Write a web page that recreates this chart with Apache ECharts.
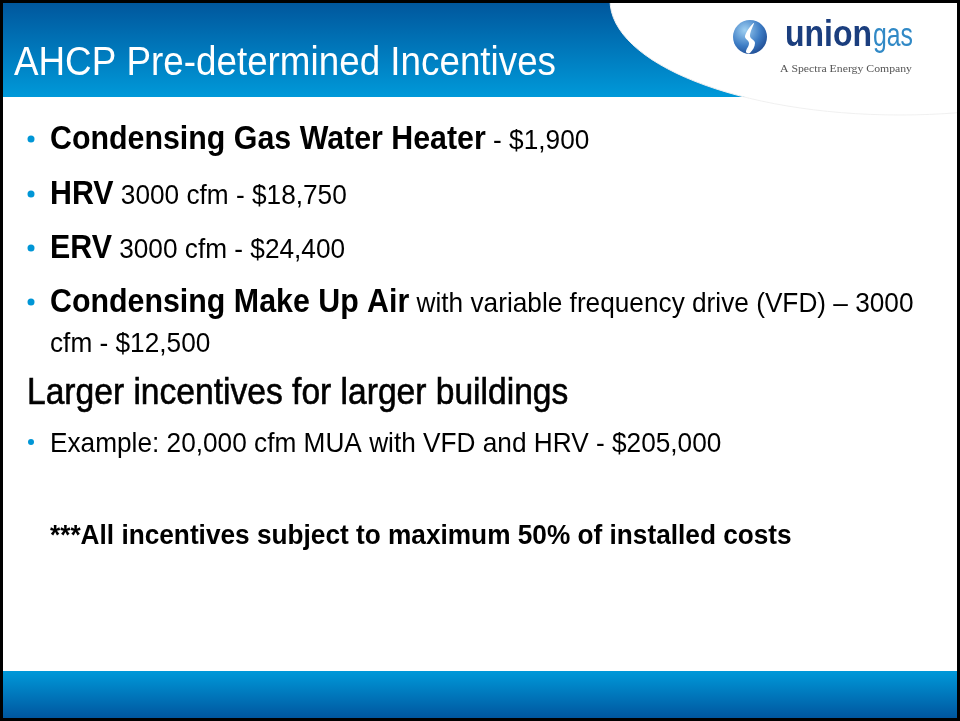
<!DOCTYPE html>
<html>
<head>
<meta charset="utf-8">
<title>AHCP Pre-determined Incentives</title>
<script src="https://cdn.jsdelivr.net/npm/echarts@6/dist/echarts.min.js"></script>
<style>
  html, body { margin: 0; padding: 0; background: #fff; }
  #slide { width: 960px; height: 721px; }
</style>
</head>
<body>
<div id="slide"></div>
<script>
// slide content
const titleText = 'AHCP Pre-determined Incentives';
const bulletLeads = ['Condensing Gas Water Heater', 'HRV', 'ERV', 'Condensing Make Up Air'];
const bulletDetails = [' - $1,900', ' 3000 cfm - $18,750', ' 3000 cfm - $24,400', ' with variable frequency drive (VFD) \u2013 3000'];
const bulletBaselines = [150, 205, 259, 313];
const wrapText = 'cfm - $12,500';
const headingText = 'Larger incentives for larger buildings';
const exampleText = 'Example: 20,000 cfm MUA with VFD and HRV - $205,000';
const noteText = '***All incentives subject to maximum 50% of installed costs';
const logoWords = ['union', 'gas'];
const logoTagline = 'A Spectra Energy Company';

// the slide font is a condensed Arial: Liberation Sans squeezed with scaleX
const SANS = "'Liberation Sans', Arial, sans-serif";
const SQUEEZE = 0.92;
const BLUE = '#0096d6';

const measureCtx = document.createElement('canvas').getContext('2d');
function textWidth(text, font) {
  measureCtx.font = font;
  return measureCtx.measureText(text).width;
}

const chart = echarts.init(document.getElementById('slide'), null, { renderer: 'canvas' });
const graphics = [];

// text placed by its baseline ('middle' sits ~0.31em above the baseline)
function lineText(x, baseline, text, weight, size, color, scaleX) {
  return {
    type: 'text', x: x, y: baseline - 0.31 * size, scaleX: scaleX || SQUEEZE,
    style: {
      text: text, fill: color || '#000',
      font: weight + ' ' + size + 'px ' + SANS, verticalAlign: 'middle'
    }
  };
}
function dot(cx, cy, r) {
  return { type: 'circle', shape: { cx: cx, cy: cy, r: r }, style: { fill: BLUE } };
}

// header band
graphics.push({
  type: 'rect', shape: { x: 0, y: 0, width: 960, height: 97 },
  style: { fill: new echarts.graphic.LinearGradient(0, 0, 0, 1, [
    { offset: 0, color: '#00559b' }, { offset: 1, color: '#0099d9' }
  ]) }
});
// white swoosh behind the logo
graphics.push({
  type: 'ellipse', shape: { cx: 900, cy: 0, rx: 290, ry: 115 },
  style: { fill: '#fff', stroke: '#f0f0f0', lineWidth: 1 }
});
graphics.push(lineText(14, 76, titleText, 'normal', 40, '#fff'));

// logo
graphics.push({
  type: 'circle', shape: { cx: 750, cy: 37, r: 17 },
  style: { fill: new echarts.graphic.RadialGradient(0.35, 0.3, 0.85, [
    { offset: 0, color: '#9fd0f2' }, { offset: 0.55, color: '#3d7cc4' }, { offset: 1, color: '#173f86' }
  ]) }
});
graphics.push({
  type: 'polygon',
  shape: { points: [[754, 23], [745, 36], [749, 43], [746, 52], [750, 53], [755, 43], [750, 36]], smooth: 0.4 },
  style: { fill: '#fff' }
});
const unionFont = 'bold 36px ' + SANS;
const gasFont = 'normal 34px ' + SANS;
graphics.push({
  type: 'text', x: 785, y: 47 - 0.31 * 36, scaleX: 87 / textWidth(logoWords[0], unionFont),
  style: { text: logoWords[0], fill: '#1b3e7e', font: unionFont, verticalAlign: 'middle' }
});
graphics.push({
  type: 'text', x: 873, y: 47 - 0.31 * 34, scaleX: 40 / textWidth(logoWords[1], gasFont),
  style: { text: logoWords[1], fill: '#3189c6', font: gasFont, verticalAlign: 'middle' }
});
const tagFont = "11px 'Liberation Serif', serif";
graphics.push({
  type: 'text', x: 780, y: 69, scaleX: 132 / textWidth(logoTagline, tagFont),
  style: { text: logoTagline, fill: '#555', font: tagFont, verticalAlign: 'middle' }
});

// bullets: bold lead then regular detail
const BOLD_SIZE = 33;
const REG_SIZE = 28.5;
bulletLeads.forEach(function (lead, i) {
  const base = bulletBaselines[i];
  const leadW = textWidth(lead, 'bold ' + BOLD_SIZE + 'px ' + SANS) * SQUEEZE;
  graphics.push(dot(31, base - 11, 3.5));
  graphics.push(lineText(50, base, lead, 'bold', BOLD_SIZE));
  graphics.push(lineText(50 + leadW, base, bulletDetails[i], 'normal', REG_SIZE));
});
graphics.push(lineText(50, 353, wrapText, 'normal', REG_SIZE));

// section heading is a touch heavier than the body text
const heading = lineText(27, 405, headingText, 'normal', 36.5);
heading.style.stroke = '#000';
heading.style.lineWidth = 0.6;
graphics.push(heading);
graphics.push(dot(31, 442, 3));
graphics.push(lineText(50, 453, exampleText, 'normal', REG_SIZE));
graphics.push(lineText(50, 545, noteText, 'bold', 28.5));

// footer band
graphics.push({
  type: 'rect', shape: { x: 0, y: 671, width: 960, height: 50 },
  style: { fill: new echarts.graphic.LinearGradient(0, 0, 0, 1, [
    { offset: 0, color: '#0099d9' }, { offset: 1, color: '#00529b' }
  ]) }
});
// slide frame
graphics.push({
  type: 'rect', shape: { x: 1.5, y: 1.5, width: 957, height: 718 },
  style: { fill: 'none', stroke: '#000', lineWidth: 3 }
});

chart.setOption({
  animation: false,
  graphic: { elements: graphics }
});
</script>
</body>
</html>
